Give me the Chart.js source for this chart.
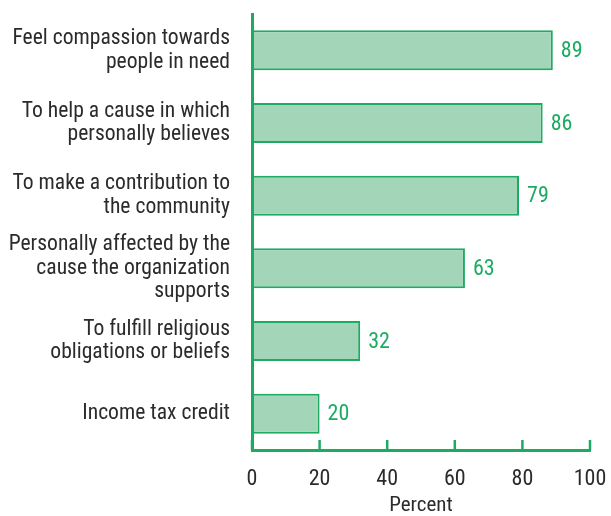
<!DOCTYPE html>
<html>
<head>
<meta charset="utf-8">
<script src="https://cdn.jsdelivr.net/npm/chart.js@4.4.0/dist/chart.umd.min.js"></script>
<style>
  body { margin: 0; background: #fff; }
  #wrap { width: 611px; height: 516px; }
</style>
</head>
<body>
<div id="wrap"><canvas id="grafico"></canvas></div>
<script>
const motivos = [
    ['Feel compassion towards', 'people in need'],
    ['To help a cause in which', 'personally believes'],
    ['To make a contribution to', 'the community'],
    ['Personally affected by the', 'cause the organization', 'supports'],
    ['To fulfill religious', 'obligations or beliefs'],
    ['Income tax credit']
];
const porcentajes = [89, 86, 79, 63, 32, 20];
const ticksX = [0, 20, 40, 60, 80, 100];

const verde = '#1dab63';
const relleno = '#a3d6b9';
const texto = '#2b2b2b';
const fuente = "'Liberation Sans Narrow', 'Roboto Condensed', Roboto, sans-serif";

// marcas del eje x hacia arriba
const marcasEje = {
    id: 'marcasEje',
    afterDraw(chart) {
        const ctx = chart.ctx;
        const x = chart.scales.x;
        const base = chart.chartArea.bottom;
        ctx.save();
        ctx.strokeStyle = verde;
        ctx.lineWidth = 2.5;
        ticksX.forEach(v => {
            const px = x.getPixelForValue(v);
            ctx.beginPath();
            ctx.moveTo(px, base - 10);
            ctx.lineTo(px, base);
            ctx.stroke();
        });
        ctx.restore();
    }
};

// valores al final de cada barra
const etiquetasValor = {
    id: 'etiquetasValor',
    afterDatasetsDraw(chart) {
        const ctx = chart.ctx;
        const meta = chart.getDatasetMeta(0);
        ctx.save();
        ctx.fillStyle = verde;
        ctx.font = '22px ' + fuente;
        ctx.textAlign = 'left';
        ctx.textBaseline = 'middle';
        meta.data.forEach((bar, i) => {
            ctx.fillText(String(porcentajes[i]), bar.x + 8, bar.y + 1);
        });
        ctx.restore();
    }
};

new Chart(document.getElementById('grafico'), {
    type: 'bar',
    data: {
        labels: motivos,
        datasets: [{
            data: porcentajes,
            backgroundColor: relleno,
            borderColor: verde,
            borderWidth: 2,
            borderSkipped: false,
            barPercentage: 0.55,
            categoryPercentage: 1
        }]
    },
    options: {
        indexAxis: 'y',
        responsive: true,
        maintainAspectRatio: false,
        animation: false,
        layout: {
            padding: { top: 14, right: 21, bottom: 0, left: 0 }
        },
        plugins: {
            legend: { display: false },
            tooltip: { enabled: false }
        },
        scales: {
            x: {
                min: 0,
                max: 100,
                afterBuildTicks: (scale) => {
                    scale.ticks = ticksX.map(v => ({ value: v }));
                },
                afterFit: (scale) => {
                    scale.height = 66;
                    scale.paddingLeft = 0;
                    scale.paddingRight = 0;
                },
                grid: { display: false, drawTicks: false },
                border: { display: true, color: verde, width: 3 },
                ticks: {
                    color: texto,
                    padding: 16,
                    maxRotation: 0,
                    font: { family: fuente, size: 22 }
                },
                title: {
                    display: true,
                    text: 'Percent',
                    color: texto,
                    padding: { top: 0, bottom: 0 },
                    font: { family: fuente, size: 21, lineHeight: 1.0 }
                }
            },
            y: {
                afterFit: (scale) => {
                    scale.width = 252;
                    scale.paddingTop = 0;
                    scale.paddingBottom = 0;
                },
                grid: { display: false, drawTicks: false },
                border: { display: true, color: verde, width: 3 },
                ticks: {
                    autoSkip: false,
                    color: texto,
                    padding: 22,
                    font: { family: fuente, size: 21.6, lineHeight: 1.1 }
                }
            }
        }
    },
    plugins: [marcasEje, etiquetasValor]
});
</script>
</body>
</html>
